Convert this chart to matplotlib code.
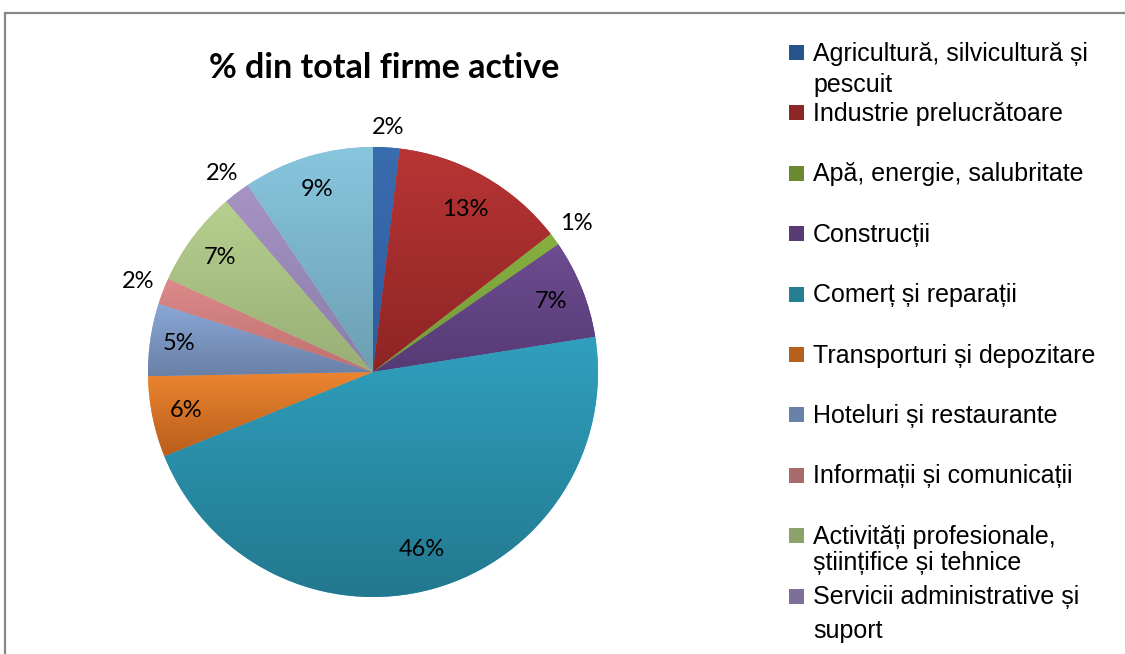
import numpy as np
import matplotlib.pyplot as plt
from matplotlib.colors import to_rgb
from matplotlib.patches import Rectangle

categories = [
    "Agricultură, silvicultură și\npescuit",
    "Industrie prelucrătoare",
    "Apă, energie, salubritate",
    "Construcții",
    "Comerț și reparații",
    "Transporturi și depozitare",
    "Hoteluri și restaurante",
    "Informații și comunicații",
    "Activități profesionale,\nștiințifice și tehnice",
    "Servicii administrative și\nsuport",
    "Alte activități de servicii",
]
shares = [1.9, 12.6, 0.9, 7.1, 46.4, 5.8, 5.2, 1.9, 6.9, 1.9, 9.4]
pct_labels = ["2%", "13%", "1%", "7%", "46%", "6%", "5%", "2%", "7%", "2%", "9%"]

# gradient colours (top, bottom) per slice, plus solid legend colours
top_cols = ["#3A6CB0", "#B83535", "#86B040", "#6D4C91", "#30A0BE", "#EC8530",
            "#8AA8D8", "#DC8A8A", "#B6D08E", "#A694C4", "#88C6DE"]
bot_cols = ["#2D5C9C", "#8E2424", "#73993A", "#563A75", "#22778D", "#B95E1C",
            "#6A80A6", "#C07070", "#98AE76", "#8A7CA8", "#6C9FB2"]
leg_cols = ["#28548C", "#8C2727", "#6B8A2F", "#573B72", "#267E92", "#B5601D",
            "#6A82AA", "#A86A6A", "#8BA36A", "#7E6F98", "#6FA3B5"]
label_dist = [1.09, 0.83, 1.12, 0.85, 0.82, 0.85, 0.87, 1.12, 0.85, 1.11, 0.85]

W, H = 1125, 654
fig = plt.figure(figsize=(W / 100, H / 100), dpi=100)
fig.patch.set_facecolor("white")

# outer chart border (cut off at right/bottom like the source)
fig.patches.append(Rectangle((4.5 / W, -0.1), 1.2, (H - 12.5) / H + 0.1,
                             transform=fig.transFigure, fill=False,
                             edgecolor="#878787", linewidth=1.6))

cx, cy, R = 373, H - 372, 225
side = 2.5 * R
ax = fig.add_axes([(cx - side / 2) / W, (cy - side / 2) / H, side / W, side / H])

wedges, _ = ax.pie(shares, colors=top_cols, startangle=90, counterclock=False,
                   wedgeprops=dict(linewidth=0))
ax.set_aspect("equal")
ax.axis("off")

# vertical gradient inside each slice
for w, c1, c2 in zip(wedges, top_cols, bot_cols):
    verts = w.get_path().vertices
    y0, y1 = verts[:, 1].min(), verts[:, 1].max()
    x0, x1 = verts[:, 0].min(), verts[:, 0].max()
    t = np.linspace(0, 1, 256)[:, None]
    img = (1 - t) * np.array(to_rgb(c1)) + t * np.array(to_rgb(c2))
    img = img[:, None, :]
    im = ax.imshow(img, extent=(x0, x1, y0, y1), origin="upper",
                   aspect="auto", interpolation="bilinear", zorder=2)
    im.set_clip_path(w)
ax.set_xlim(-1.25, 1.25)
ax.set_ylim(-1.25, 1.25)

lab_font = ["Lato", "DejaVu Sans"]
for w, txt, d in zip(wedges, pct_labels, label_dist):
    mid = np.radians((w.theta1 + w.theta2) / 2)
    ax.text(d * np.cos(mid), d * np.sin(mid), txt, ha="center", va="center",
            fontsize=17, family=lab_font, color="black", zorder=5)

fig.text(384 / W, 1 - 68 / H, "% din total firme active", ha="center", va="center",
         fontsize=24.5, fontweight="bold", family=lab_font)

# legend drawn as in the source: fixed row pitch, only the visible rows
leg_font = ["Liberation Sans", "DejaVu Sans"]
line_sp = [1.38, 1, 1, 1, 1, 1, 1, 1, 1.14, 1.5]
for i in range(10):
    ytop = 52 + i * 60.4
    fig.patches.append(Rectangle((789 / W, 1 - (ytop + 8) / H), 15 / W, 15 / H,
                                 transform=fig.transFigure, facecolor=leg_cols[i],
                                 edgecolor="none"))
    fig.text(813 / W, 1 - (ytop - 10.5) / H, categories[i], ha="left", va="top",
             fontsize=18, family=leg_font, linespacing=line_sp[i])

fig.savefig("out.png", dpi=100)
